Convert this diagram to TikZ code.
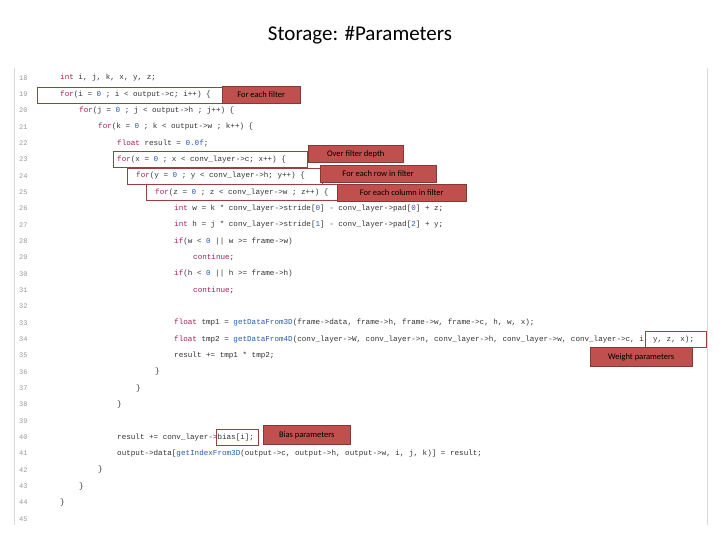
\documentclass[tikz,border=0pt]{standalone}
\usepackage{fontspec}
\setmainfont{Carlito}
\setmonofont{Liberation Mono}
\usepackage{xcolor}
\definecolor{kwcol}{RGB}{160,30,90}
\definecolor{fncol}{RGB}{40,90,170}
\definecolor{boxred}{RGB}{192,80,77}
\newcommand{\kw}[1]{\textcolor{kwcol}{#1}}
\newcommand{\fn}[1]{\textcolor{fncol}{#1}}
\newcommand{\nm}[1]{\textcolor{fncol}{#1}}
\begin{document}
\begin{tikzpicture}[x=1pt, y=-1pt]
\tikzset{code/.style={anchor=west, inner sep=0pt, font=\ttfamily\fontsize{7.6}{9}\selectfont, text=black!80},
  lnum/.style={anchor=west, inner sep=0pt, font=\ttfamily\fontsize{7}{9}\selectfont, text=black!40},
  hbox/.style={draw=boxred!80!black, thin},
  tag/.style={fill=boxred, draw=boxred!70!black, text=black, font=\fontsize{8.5}{10}\selectfont, inner sep=0pt, minimum height=17pt, anchor=west}}
\useasboundingbox (0,0) rectangle (720,540);
\node[font=\fontsize{21}{24}\selectfont] (title) at (360,35) {Storage: \#Parameters};
\draw[black!15] (14,68) -- (14,525) (707,68) -- (707,525);

% line numbers
\foreach \n [count=\i from 0] in {18,...,45}
  \node[lnum] (n\n) at (19,78+16.33*\i) {\n};

% code
\node[code] (l18) at (60,78) {\kw{int} i, j, k, x, y, z;};
\node[code] (l19) at (60,94.3) {\kw{for}(i = \nm{0} ; i < output->c; i++) \{};
\node[code] (l20) at (79,110.7) {\kw{for}(j = \nm{0} ; j < output->h ; j++) \{};
\node[code] (l21) at (98,127) {\kw{for}(k = \nm{0} ; k < output->w ; k++) \{};
\node[code] (l22) at (117,143.3) {\kw{float} result = \nm{0.0f};};
\node[code] (l23) at (117,159.7) {\kw{for}(x = \nm{0} ; x < conv\_layer->c; x++) \{};
\node[code] (l24) at (136,176) {\kw{for}(y = \nm{0} ; y < conv\_layer->h; y++) \{};
\node[code] (l25) at (155,192.3) {\kw{for}(z = \nm{0} ; z < conv\_layer->w ; z++) \{};
\node[code] (l26) at (174,208.6) {\kw{int} w = k * conv\_layer->stride[\nm{0}] - conv\_layer->pad[\nm{0}] + z;};
\node[code] (l27) at (174,225) {\kw{int} h = j * conv\_layer->stride[\nm{1}] - conv\_layer->pad[\nm{2}] + y;};
\node[code] (l28) at (174,241.3) {\kw{if}(w < \nm{0} || w >= frame->w)};
\node[code] (l29) at (193,257.6) {\kw{continue};};
\node[code] (l30) at (174,274) {\kw{if}(h < \nm{0} || h >= frame->h)};
\node[code] (l31) at (193,290.3) {\kw{continue};};
\node[code] (l33) at (174,323) {\kw{float} tmp1 = \fn{getDataFrom3D}(frame->data, frame->h, frame->w, frame->c, h, w, x);};
\node[code] (l34) at (174,339.3) {\kw{float} tmp2 = \fn{getDataFrom4D}(conv\_layer->W, conv\_layer->n, conv\_layer->h, conv\_layer->w, conv\_layer->c, i, y, z, x);};
\node[code] (l35) at (174,355.6) {result += tmp1 * tmp2;};
\node[code] (l36) at (155,372) {\}};
\node[code] (l37) at (136,388.3) {\}};
\node[code] (l38) at (117,404.6) {\}};
\node[code] (l40) at (117,437.3) {result += conv\_layer->bias[i];};
\node[code] (l41) at (117,453.6) {output->data[\fn{getIndexFrom3D}(output->c, output->h, output->w, i, j, k)] = result;};
\node[code] (l42) at (98,470) {\}};
\node[code] (l43) at (79,486.3) {\}};
\node[code] (l44) at (60,502.6) {\}};

% highlights
\draw[hbox] (37,87) rectangle (222,103);
\draw[hbox] (113,151) rectangle (307,167);
\draw[hbox] (127,168) rectangle (322,184);
\draw[hbox] (146,184.5) rectangle (339,200.5);
\draw[hbox] (645,331.5) rectangle (706,347.5);
\draw[hbox] (216,429.5) rectangle (258,445.5);

% labels
\node[tag, minimum width=78pt] (t1) at (222,95) {For each filter};
\node[tag, minimum width=95pt] (t2) at (308,154) {Over filter depth};
\node[tag, minimum width=116pt] (t3) at (320,173.5) {For each row in filter};
\node[tag, minimum width=129pt] (t4) at (337,192.5) {For each column in filter};
\node[tag, minimum width=102pt, minimum height=19pt] (t5) at (590,357) {Weight parameters};
\node[tag, minimum width=87pt, minimum height=19pt] (t6) at (263,435) {Bias parameters};
\end{tikzpicture}
\end{document}
